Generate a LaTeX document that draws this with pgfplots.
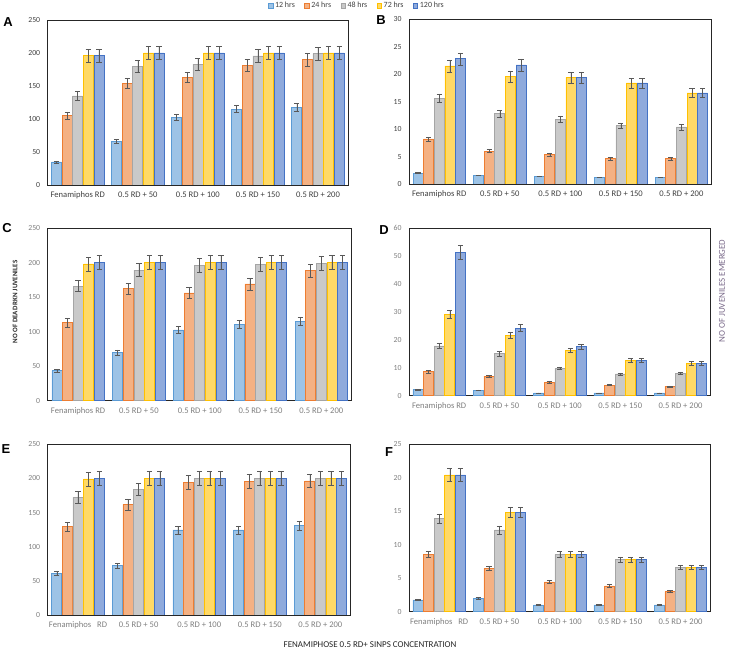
\documentclass[border=0pt]{standalone}
\usepackage{pgfplots}
\pgfplotsset{compat=1.18}
\usepackage{pgfplotstable}
\usepackage{fontspec}
\setmainfont{Carlito}
\newfontfamily\letterfont{Liberation Sans}

\definecolor{f12}{HTML}{9DC3E6}\definecolor{d12}{HTML}{5B9BD5}
\definecolor{f24}{HTML}{F4B183}\definecolor{d24}{HTML}{ED7D31}
\definecolor{f48}{HTML}{C9C9C9}\definecolor{d48}{HTML}{A5A5A5}
\definecolor{f72}{HTML}{FFD966}\definecolor{d72}{HTML}{FFC000}
\definecolor{f120}{HTML}{8FAADC}\definecolor{d120}{HTML}{4472C4}
\definecolor{darktick}{HTML}{404040}
\definecolor{lighttick}{HTML}{7F7F7F}
\definecolor{purplelab}{HTML}{7A6A8A}

\pgfplotstableread{
x a ae b be c ce d de e ee
0 35 1.5 105 5 135 7 196 9.5 196 9.5
1 66 3 154.5 7.5 180 9 200 10 200 10
2 102.5 5 163 8 183 9 200 10 200 10
3 115 5.5 181 9 195.5 9.5 200 10 200 10
4 118 6 190 9.5 199 10 200 10 200 10
}\dataA
\pgfplotstableread{
x a ae b be c ce d de e ee
0 2.0 0.1 8.2 0.4 15.6 0.8 21.5 1.1 22.8 1.1
1 1.6 0.08 6.0 0.3 12.8 0.6 19.6 1.0 21.7 1.1
2 1.4 0.07 5.4 0.27 11.8 0.6 19.4 1.0 19.4 1.0
3 1.2 0.06 4.6 0.23 10.6 0.53 18.4 0.9 18.4 0.9
4 1.2 0.06 4.6 0.23 10.4 0.52 16.6 0.83 16.6 0.83
}\dataB
\pgfplotstableread{
x a ae b be c ce d de e ee
0 43.5 2 113 6 166 8 198 10 200 10
1 70 3.5 162 8 189 9.5 200 10 200 10
2 102.5 5 156 8 195.5 10 200 10 200 10
3 110.7 5.5 169 8.5 197 10 200 10 200 10
4 114.6 5.7 188 9.4 199 10 200 10 200 10
}\dataC
\pgfplotstableread{
x a ae b be c ce d de e ee
0 2.2 0.1 8.6 0.43 17.8 0.9 29.2 1.46 51.2 2.56
1 2.0 0.1 7.0 0.35 15.0 0.75 21.6 1.08 24.2 1.2
2 1.0 0.05 4.8 0.24 9.8 0.49 16.2 0.8 17.6 0.88
3 1.0 0.05 3.8 0.19 7.8 0.39 12.7 0.63 12.7 0.63
4 1.0 0.05 3.3 0.17 8.0 0.4 11.6 0.58 11.6 0.58
}\dataD
\pgfplotstableread{
x a ae b be c ce d de e ee
0 61.5 3 129.4 6.5 172.4 8.6 199.2 10 200 10
1 72.3 3.6 162 8.1 184 9.2 200 10 200 10
2 124.5 6.2 194.3 9.7 200 10 200 10 200 10
3 124.5 6.2 195.8 9.8 200 10 200 10 200 10
4 130.9 6.5 196.3 9.8 200 10 200 10 200 10
}\dataE
\pgfplotstableread{
x a ae b be c ce d de e ee
0 1.75 0.09 8.55 0.43 13.9 0.7 20.4 1.02 20.4 1.02
1 2.0 0.1 6.45 0.32 12.2 0.61 14.8 0.74 14.8 0.74
2 1.0 0.05 4.45 0.22 8.55 0.43 8.55 0.43 8.55 0.43
3 1.0 0.05 3.85 0.19 7.8 0.39 7.8 0.39 7.8 0.39
4 1.0 0.05 3.0 0.15 6.6 0.33 6.6 0.33 6.6 0.33
}\dataF

\newcommand\fiveplots[1]{%
  \addplot[fill=f12, draw=d12] table[x=x,y=a,y error=ae]{#1};
  \addplot[fill=f24, draw=d24] table[x=x,y=b,y error=be]{#1};
  \addplot[fill=f48, draw=d48] table[x=x,y=c,y error=ce]{#1};
  \addplot[fill=f72, draw=d72] table[x=x,y=d,y error=de]{#1};
  \addplot[fill=f120, draw=d120] table[x=x,y=e,y error=ee]{#1};
}

\pgfplotsset{
  panel/.style={
    scale only axis, anchor=south west,
    ybar=0.6bp, bar width=10bp,
    xmin=-0.5, xmax=4.5, ymin=0,
    xtick={0,1,2,3,4},
    xticklabels={Fenamiphos RD, 0.5 RD + 50, 0.5 RD + 100, 0.5 RD + 150, 0.5 RD + 200},
    major tick length=0pt,
    axis line style={black!85, line width=0.8pt},
    xticklabel style={font=\fontsize{8.6}{9}\selectfont, text=#1, yshift=-3.5bp},
    yticklabel style={font=\fontsize{7.8}{9}\selectfont, text=#1, xshift=-4bp},
    /pgf/number format/assume math mode=true,
    every axis plot/.append style={line width=0.7pt},
    error bars/y dir=both, error bars/y explicit,
    error bars/error bar style={black!65, line width=0.5pt},
    error bars/error mark options={rotate=90, mark size=2.6bp, black!65, line width=0.5pt},
  }
}

\begin{document}
\begin{tikzpicture}
\useasboundingbox (0,0) rectangle (733bp,653bp);

% A
\begin{axis}[panel=darktick, at={(47.7bp,468bp)}, width=300.3bp, height=165bp,
  ymax=250, ytick={0,50,...,250},
  legend style={at={(1.03,1.087)}, anchor=center, draw=none, fill=none,
    font=\fontsize{8}{9}\selectfont, text=darktick,
    /tikz/every even column/.append style={column sep=7.5bp}},
  legend columns=5,
  legend image code/.code={\draw[#1, line width=0.5pt] (0bp,-2.2bp) rectangle (4.4bp,2.2bp);}]
\fiveplots{\dataA}
\legend{12 hrs, 24 hrs, 48 hrs, 72 hrs, 120 hrs}
\end{axis}

% B
\begin{axis}[panel=darktick, at={(409bp,469bp)}, width=302.7bp, height=164.7bp,
  ymax=30, ytick={0,5,...,30}]
\fiveplots{\dataB}
\end{axis}

% C
\begin{axis}[panel=lighttick, at={(47.7bp,252.3bp)}, width=304bp, height=172.7bp,
  ymax=250, ytick={0,50,...,250}]
\fiveplots{\dataC}
\end{axis}

% D
\begin{axis}[panel=lighttick, at={(409bp,257.3bp)}, width=301.7bp, height=167.7bp,
  ymax=60, ytick={0,10,...,60}]
\fiveplots{\dataD}
\end{axis}

% E
\begin{axis}[panel=lighttick, at={(47.7bp,38bp)}, width=303bp, height=170.7bp,
  ymax=250, ytick={0,50,...,250},
  xticklabels={Fenamiphos\ \ \ RD, 0.5 RD + 50, 0.5 RD + 100, 0.5 RD + 150, 0.5 RD + 200}]
\fiveplots{\dataE}
\end{axis}

% F
\begin{axis}[panel=lighttick, at={(409bp,41.3bp)}, width=301.7bp, height=167.7bp,
  ymax=25, ytick={0,5,...,25},
  xticklabels={Fenamiphos\ \ \ RD, 0.5 RD + 50, 0.5 RD + 100, 0.5 RD + 150, 0.5 RD + 200}]
\fiveplots{\dataF}
\end{axis}

% panel letters
\foreach \l/\x/\y in {A/8/631, B/381/633, C/7/425, D/384/423, E/6/204, F/389/201}
  \node[font=\letterfont\bfseries\fontsize{13}{14}\selectfont, inner sep=0pt] at (\x bp,\y bp) {\l};

% axis titles
\node[rotate=90, font=\bfseries\fontsize{7}{8}\selectfont, text=black!85] at (15bp,351bp) {NO OF DEAD RKN JUVENILES};
\node[rotate=90, font=\fontsize{9}{10}\selectfont, text=purplelab] at (722bp,362bp) {NO OF JUVENILES EMERGED};
\node[font=\fontsize{9}{10}\selectfont, text=black!85] at (370bp,8bp) {FENAMIPHOSE 0.5 RD+ SINPS CONCENTRATION};
\end{tikzpicture}
\end{document}
